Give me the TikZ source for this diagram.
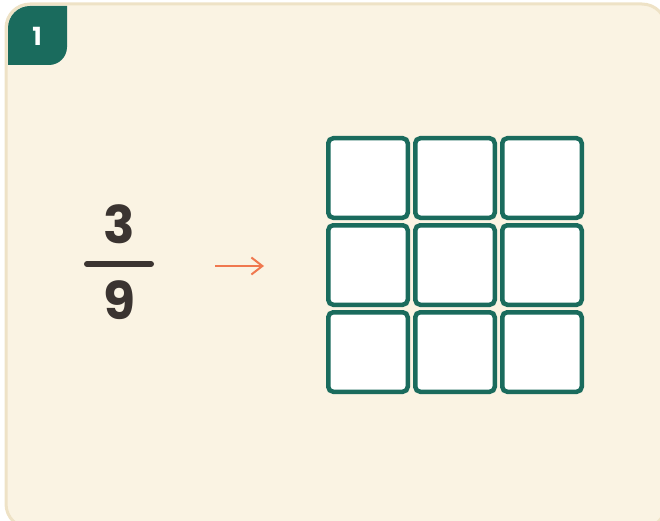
\documentclass[tikz,border=0pt]{standalone}
\usepackage{fontspec}
\setmainfont{Poppins}
\usetikzlibrary{arrows.meta}
\definecolor{cardbg}{HTML}{FAF3E3}
\definecolor{cardline}{HTML}{EEE2C6}
\definecolor{tealgreen}{HTML}{1A6B5D}
\definecolor{inkdark}{HTML}{3B3431}
\definecolor{arroworange}{HTML}{F0784F}
\begin{document}
\begin{tikzpicture}[x=1pt, y=-1pt,
  cell/.style={draw=tealgreen, fill=white, line width=4.5pt, rounded corners=5pt,
    minimum size=79.5pt, inner sep=0pt, outer sep=0pt},
  digit/.style={text=inkdark, font=\bfseries\fontsize{52}{52}\selectfont, inner sep=0pt}]
  \useasboundingbox (0,0) rectangle (660,521);
  % Card
  \draw[fill=cardbg, draw=cardline, line width=3pt, rounded corners=24pt] (6,4) rectangle (666,528);
  % Badge in the corner
  \begin{scope}
    \clip[rounded corners=22pt] (8,6) rectangle (662,526);
    \fill[tealgreen, rounded corners=18pt] (-40,-40) rectangle (67,65);
  \end{scope}
  \node[text=white, font=\bfseries\fontsize{25}{25}\selectfont, inner sep=0pt] (badge) at (37,36) {1};
  % Fraction 3/9
  \node[digit] (num) at (119,224) {3};
  \node[digit] (den) at (119,300) {9};
  \coordinate (barL) at (87,264);
  \coordinate (barR) at (151,264);
  \draw[inkdark, line width=6pt, line cap=round] (barL) -- (barR);
  % Arrow
  \coordinate (arrS) at (215,266);
  \coordinate (arrE) at (264,266);
  \draw[arroworange, line width=2pt, -{Straight Barb[length=11pt, width=17pt]}] (arrS) -- (arrE);
  % Grid of nine cells
  \foreach \r in {0,1,2} {
    \foreach \c in {0,1,2} {
      \node[cell] (c-\r-\c) at (368+87*\c, 178+87*\r) {};
    }
  }
\end{tikzpicture}
\end{document}
